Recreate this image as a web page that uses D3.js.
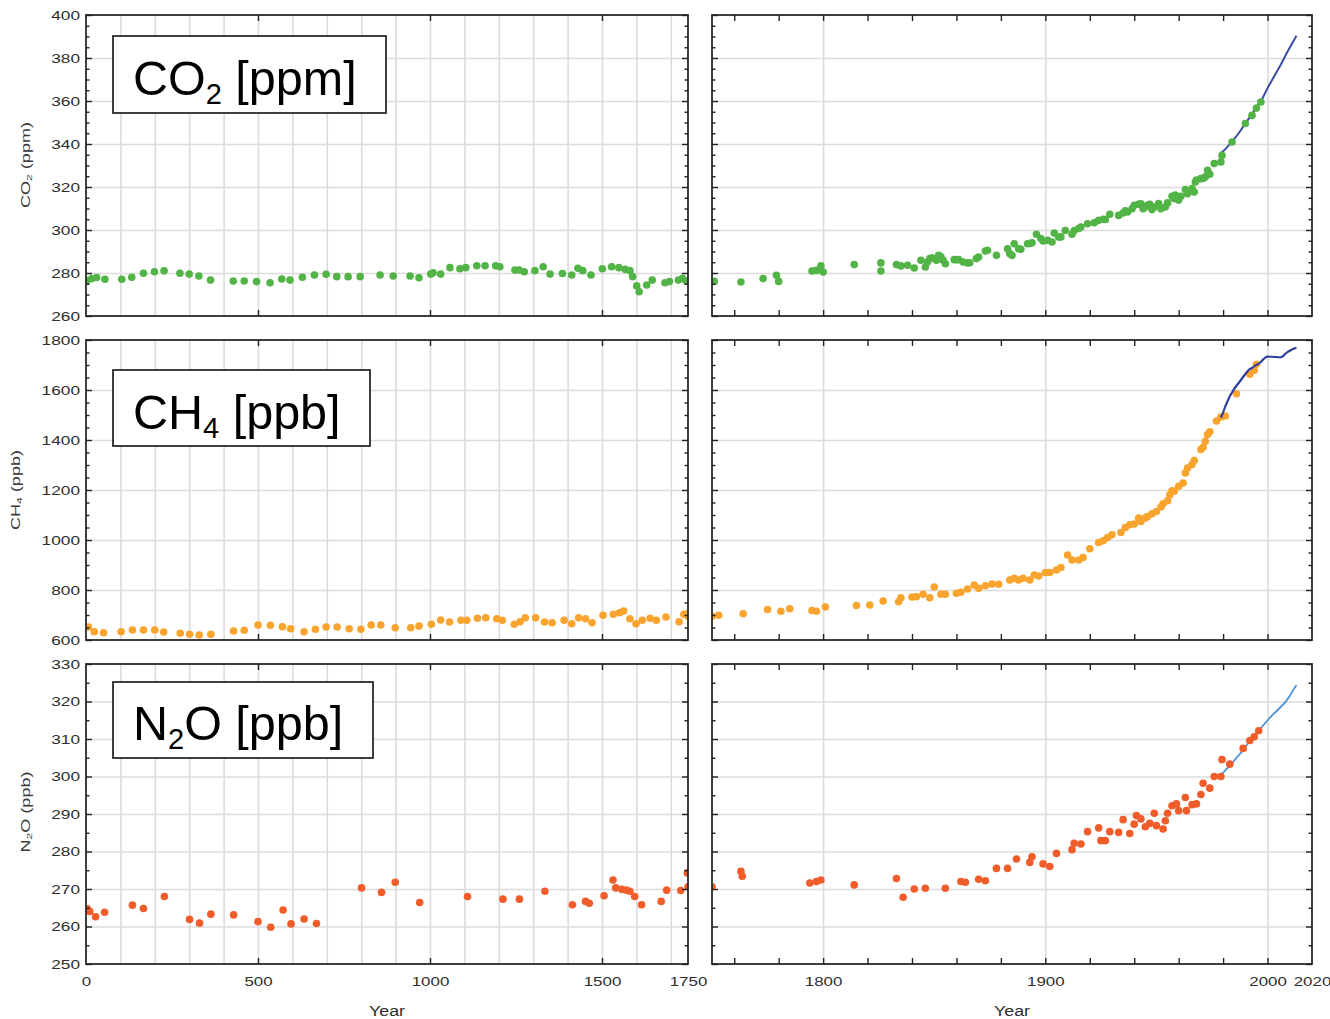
<!DOCTYPE html>
<html><head><meta charset="utf-8">
<script src="https://cdn.jsdelivr.net/npm/d3@7"></script>
<style>
body{margin:0;background:#fff;}
svg{display:block;font-family:"Liberation Sans",Arial,sans-serif;}
</style>
</head><body>
<svg id="c" width="1330" height="1019"></svg>
<script>
// ---------------- DATA ----------------
const co2Ice = [[3,276.5],[17,277.4],[31,277.9],[55,277.1],[104,277.1],[133,278],[167,279.9],[199,280.6],[227,281],[273,279.9],[300,279.5],[328,278.6],[362,276.7],[428,276.3],[460,276.3],[496,276],[535,275.5],[569,277.2],[593,276.7],[629,278],[664,279.1],[698,279.4],[729,278.3],[762,278.3],[797,278.3],[855,279.1],[893,278.6],[942,278.6],[968,277.8],[1002,279.5],[1009,280.1],[1031,279.5],[1058,282.5],[1087,282],[1104,282.5],[1136,283.4],[1160,283.4],[1191,283.4],[1203,282.9],[1247,281.4],[1259,281.4],[1274,280.6],[1305,281.1],[1329,282.9],[1349,279.5],[1385,279.8],[1412,279.1],[1430,282.2],[1444,281.1],[1468,279.1],[1501,282],[1528,282.9],[1549,282.5],[1567,281.7],[1581,281.1],[1589,278.3],[1601,274],[1608,271.3],[1630,274.4],[1646,276.7],[1683,275.5],[1696,276],[1722,276.7],[1734,277.5],[1744,276.4],
[1751,276.1],[1763,275.8],[1773,277.4],[1779,278.9],[1780,276.1],[1795,280.9],[1797,281.2],[1799,283.3],[1800,280.5],[1814,283.9],[1826,280.9],[1826,284.7],
[1833,283.9],[1835,283.3],[1838,283.6],[1841,282.3],[1844,285.9],[1846,282.8],[1847,285.1],[1848,286.7],[1849,287.1],[1851,285.9],[1852,288.2],[1853,287.5],[1854,285.9],[1855,284.3],[1859,286.2],[1860,286.2],[1861,286.2],[1863,285.1],[1865,284.7],[1866,284.8],[1869,286.7],[1870,287.4],[1873,290.2],[1874,290.6],[1878,288.2],[1883,291.3],[1884,289],[1885,288.2],[1886,293.6],[1888,291.3],[1889,291.0],[1892,293.6],[1893,293.7],[1894,294.1],[1896,298.0],[1898,296.0],[1899,294.9],[1901,295.2],[1903,294.4],[1904,298.6],[1906,296.7],[1907,296.8],[1909,299.8],[1912,298.0],[1913,299.8],[1915,300.7],[1916,301.4],[1919,302.9],[1922,303.4],[1924,304.5],[1926,305.0],[1927,304.9],[1929,307.3],[1933,306.8],[1935,307.9],[1936,308.9],[1937,308.4],[1939,309.9],[1940,311.5],[1942,312.0],[1943,312.2],[1944,309.9],[1945,310.8],[1946,311.5],[1947,312.0],[1948,309.5],[1949,310.7],[1951,312.3],[1952,309.9],[1954,310.7],[1955,312.6],[1957,315.7],[1958,314.6],[1958.5,316.2],[1960,313.9],[1961,315.7],[1963,318.8],[1964,316.9],[1966,319.3],[1967,317.7],[1967.5,322.3],[1968,323.2],[1970,323.9],[1971,324.0],[1972,324.7],[1973,327.8],[1974,325.9],[1976,330.9],[1979,331.6],[1979.5,334.7],[1984,340.9],[1990,349.5],[1993,353.3],[1995,356.7],[1997,359.5]];
const co2Direct = [[1979,335.8],[1980,336.6],[1984,341],[1987,345],[1990,349.5],[1993,354],[1995,357],[1997,359.8],[2000,366],[2003,371.5],[2006,377],[2009,383],[2012,388.5],[2013,390.3]];

const ch4Ice = [[7,652],[24,633],[51,629],[102,633],[135,640],[167,640],[200,640],[226,632],[274,627],[301,623],[329,620],[363,623],[429,636],[460,639],[500,660],[536,659],[571,653],[595,645],[634,633],[667,643],[698,652],[730,652],[765,645],[799,643],[829,660],[857,660],[899,649],[944,649],[968,656],[1004,663],[1031,680],[1057,672],[1090,679],[1107,679],[1138,687],[1162,689],[1194,685],[1210,679],[1245,663],[1262,673],[1277,689],[1307,689],[1333,672],[1355,669],[1390,679],[1412,665],[1432,689],[1452,685],[1471,669],[1503,699],[1533,703],[1551,709],[1563,716],[1581,685],[1599,665],[1617,679],[1640,687],[1658,679],[1686,692],[1724,673],[1738,703],[1748,705],
[1750,695],[1753,699],[1764,705],[1775,722],[1781,715],[1785,725],[1795,718],[1797,715],[1801,732],[1815,738],[1821,740],[1827,756],[1834,753],[1835,769],[1840,772],[1842,773],[1845,783],[1848,769],[1850,812],[1853,783],[1855,783],[1860,787],[1862,791],[1865,804],[1868,820],[1870,807],[1873,817],[1876,824],[1879,823],[1884,840],[1886,847],[1888,840],[1890,847],[1893,840],[1895,860],[1897,856],[1900,870],[1902,870],[1905,880],[1907,890],[1910,940],[1912,920],[1915,920],[1917,930],[1920,965],[1924,990],[1926,997],[1928,1010],[1930,1021],[1934,1030],[1936,1050],[1938,1061],[1940,1064],[1942,1088],[1943,1074],[1945,1088],[1946,1094],[1948,1105],[1950,1114],[1952,1132],[1953,1145],[1955,1157],[1956,1181],[1957,1197],[1958,1195],[1960,1215],[1962,1228],[1963,1268],[1964,1288],[1966,1302],[1967,1318],[1970,1362],[1971,1371],[1972,1395],[1973,1422],[1974,1433],[1977,1476],[1979,1492],[1981,1496],[1986,1585],[1992,1663],[1994,1679],[1995,1703]];
const ch4Direct = [[1979,1490],[1980,1510],[1981,1535],[1982,1555],[1983,1575],[1984,1590],[1985,1605],[1986,1617],[1987,1628],[1988,1640],[1989,1652],[1990,1664],[1991,1675],[1992,1684],[1993,1688],[1994,1695],[1995,1700],[1996,1705],[1997,1712],[1998,1722],[1999,1730],[2000,1734],[2001,1733],[2002,1733],[2003,1732],[2004,1732],[2005,1731],[2006,1731],[2007,1735],[2008,1745],[2009,1752],[2010,1757],[2011,1762],[2012,1766],[2013,1769]];

const n2oIce = [[4,264.7],[11,264.0],[28,262.6],[54,263.8],[135,265.7],[167,264.8],[228,268.0],[301,261.9],[330,260.9],[363,263.3],[429,263.1],[500,261.3],[537,259.8],[573,264.4],[596,260.7],[634,262.0],[670,260.8],[801,270.3],[859,269.1],[899,271.8],[970,266.4],[1109,268.0],[1212,267.3],[1260,267.3],[1334,269.4],[1414,265.8],[1452,266.7],[1463,266.2],[1506,268.2],[1532,272.4],[1540,270.3],[1558,269.9],[1571,269.7],[1581,269.4],[1595,268.0],[1615,265.8],[1672,266.7],[1688,269.7],[1729,269.6],[1748,274.3],[1750,270.6],
[1763,274.7],[1763.6,273.4],[1794,271.6],[1797,272.0],[1799,272.4],[1814,271.1],[1833,272.8],[1836,267.8],[1841,270.0],[1846,270.2],[1855,270.2],[1862,272.0],[1864,271.8],[1870,272.6],[1873,272.2],[1878,275.5],[1883,275.5],[1887,278.0],[1893,277.1],[1894,278.6],[1899,276.7],[1902,276.0],[1905,279.5],[1912,280.5],[1913,282.2],[1916,282.0],[1919,285.3],[1924,286.3],[1925,282.9],[1927,282.9],[1929,285.3],[1933,285.1],[1935,288.5],[1938,284.8],[1940,287.3],[1941,289.6],[1943,288.7],[1945,286.6],[1947,287.5],[1949,290.2],[1950,286.9],[1953,286.0],[1954,288.2],[1955,290.2],[1957,292.2],[1959,292.7],[1960,290.9],[1963,294.4],[1963.5,290.9],[1966,292.5],[1968,292.7],[1970,295.2],[1971,298.2],[1974,296.9],[1976,300.0],[1979,300.0],[1979.5,304.5],[1983,303.3],[1989,307.5],[1992,309.6],[1994,310.6],[1996,312.2]];
const n2oDirect = [[1978,300.2],[1980,301.0],[1982,302.3],[1984,303.5],[1986,305.0],[1988,306.3],[1990,308.0],[1992,309.4],[1994,310.6],[1996,312.2],[1998,313.6],[2000,315.0],[2002,316.3],[2004,317.4],[2006,318.6],[2008,319.8],[2010,321.5],[2012,323.5],[2013,324.3]];

const co2YTicks = [260,280,300,320,340,360,380,400];
const ch4YTicks = [600,800,1000,1200,1400,1600,1800];
const n2oYTicks = [250,260,270,280,290,300,310,320,330];
const leftXTicks = [0,500,1000,1500,1750];
const rightXTicks = [1800,1900,2000,2020];

// ---------------- LAYOUT / STYLE ----------------
const svg = d3.select("#c");
const cols = [
  {x0:86, x1:688, domain:[0,1750], grid:d3.range(100,1750,100), ticks:[500,1000,1500], labels:leftXTicks},
  {x0:712, x1:1312, domain:[1750,2020], grid:[1800,1900,2000], ticks:d3.range(1760,2020,20), labels:rightXTicks}
];
const rows = [
  {id:"co2", y0:15, y1:316, domain:[260,400], majors:co2YTicks, minorStep:5, ice:co2Ice, direct:co2Direct,
   dot:"#52b447", line:"#3b4ba3", lw:2, lineTop:false,
   box:[113,36,273,77], label:[["CO",0],["2",1],[" [ppm]",0]], labelY:95,
   title:[["CO",0],["2",1],[" (ppm)",0]], titleX:30, titleY:165, titleLen:86},
  {id:"ch4", y0:340, y1:640, domain:[600,1800], majors:ch4YTicks, minorStep:50, ice:ch4Ice, direct:ch4Direct,
   dot:"#f9a42e", line:"#2f3f9e", lw:2.2, lineTop:true,
   box:[113,370,257,76], label:[["CH",0],["4",1],[" [ppb]",0]], labelY:429,
   title:[["CH",0],["4",1],[" (ppb)",0]], titleX:20, titleY:490, titleLen:80},
  {id:"n2o", y0:664, y1:964, domain:[250,330], majors:n2oYTicks, minorStep:5, ice:n2oIce, direct:n2oDirect,
   dot:"#f15d2a", line:"#4b92d6", lw:1.8, lineTop:false,
   box:[113,682,260,76], label:[["N",0],["2",1],["O [ppb]",0]], labelY:740,
   title:[["N",0],["2",1],["O (ppb)",0]], titleX:30, titleY:812, titleLen:81}
];

const gridColor = "#dcdcdc", frameColor = "#2a2a2a", tickColor = "#222", labelColor = "#2e2e2e";

function cleanAxis(g){ g.select(".domain").remove(); g.attr("font-family",null).attr("font-size",null); }

rows.forEach((r, ri) => {
  const y = d3.scaleLinear(r.domain, [r.y1, r.y0]);
  const minors = d3.range(r.domain[0], r.domain[1] + 0.001, r.minorStep).filter(v => !r.majors.includes(v));
  cols.forEach((c, ci) => {
    const x = d3.scaleLinear(c.domain, [c.x0, c.x1]);
    const g = svg.append("g");
    const cid = `clip-${r.id}-${ci}`;
    svg.append("clipPath").attr("id", cid).append("rect")
      .attr("x", c.x0).attr("y", r.y0).attr("width", c.x1 - c.x0).attr("height", r.y1 - r.y0);

    // grid
    g.append("g").attr("transform", `translate(0,${r.y1})`)
      .call(d3.axisBottom(x).tickValues(c.grid).tickSize(-(r.y1 - r.y0)).tickFormat(""))
      .call(cleanAxis).selectAll("line").attr("stroke", gridColor).attr("stroke-width", 1.6);
    g.append("g").attr("transform", `translate(${c.x0},0)`)
      .call(d3.axisLeft(y).tickValues(r.majors.slice(1, -1)).tickSize(-(c.x1 - c.x0)).tickFormat(""))
      .call(cleanAxis).selectAll("line").attr("stroke", gridColor).attr("stroke-width", 1.6);

    const data = r.ice.filter(d => d[0] >= c.domain[0] - 10 && d[0] <= c.domain[1] + 10);
    const direct = r.direct.filter(d => d[0] >= c.domain[0] && d[0] <= c.domain[1]);
    const plot = g.append("g").attr("clip-path", `url(#${cid})`);
    const drawLine = () => {
      if (direct.length) plot.append("path").datum(direct)
        .attr("fill", "none").attr("stroke", r.line).attr("stroke-width", r.lw)
        .attr("stroke-linejoin", "round")
        .attr("d", d3.line().x(d => x(d[0])).y(d => y(d[1])));
    };
    if (!r.lineTop) drawLine();
    plot.append("g").selectAll("circle").data(data).join("circle")
      .attr("cx", d => x(d[0])).attr("cy", d => y(d[1])).attr("r", 3.8).attr("fill", r.dot);
    if (r.lineTop) drawLine();

    // frame
    g.append("rect").attr("x", c.x0).attr("y", r.y0).attr("width", c.x1 - c.x0).attr("height", r.y1 - r.y0)
      .attr("fill", "none").attr("stroke", frameColor).attr("stroke-width", 1.8);

    // inward ticks
    const tk = (axis, tx, ty) => g.append("g").attr("transform", `translate(${tx},${ty})`)
      .call(axis.tickFormat("")).call(cleanAxis).selectAll("line").attr("stroke", tickColor).attr("stroke-width", 1.4);
    tk(d3.axisLeft(y).tickValues(r.majors).tickSize(-6), c.x0, 0);
    tk(d3.axisLeft(y).tickValues(minors).tickSize(-3.5), c.x0, 0);
    tk(d3.axisRight(y).tickValues(r.majors).tickSize(-6), c.x1, 0);
    tk(d3.axisRight(y).tickValues(minors).tickSize(-3.5), c.x1, 0);
    tk(d3.axisBottom(x).tickValues(c.ticks).tickSize(-6), 0, r.y1);
    tk(d3.axisTop(x).tickValues(c.ticks).tickSize(-6), 0, r.y0);

    // y labels (left column only)
    if (ci === 0) {
      const ya = g.append("g").attr("transform", `translate(${c.x0},0)`)
        .call(d3.axisLeft(y).tickValues(r.majors).tickSize(0).tickPadding(6).tickFormat(d3.format("d")))
        .call(cleanAxis);
      ya.selectAll("text").attr("font-size", 13).attr("fill", labelColor)
        .attr("lengthAdjust", "spacingAndGlyphs")
        .attr("textLength", function(){ return this.textContent.length * 9.6; });
    }
    // x labels (bottom row only)
    if (ri === rows.length - 1) {
      const xa = g.append("g").attr("transform", `translate(0,${r.y1})`)
        .call(d3.axisBottom(x).tickValues(c.labels).tickSize(0).tickFormat(d3.format("d")))
        .call(cleanAxis);
      xa.selectAll("text").attr("y", 22).attr("dy", 0).attr("font-size", 13).attr("fill", labelColor)
        .attr("lengthAdjust", "spacingAndGlyphs")
        .attr("textLength", function(){ return this.textContent.length * 9.4; });
      svg.append("text").attr("x", (c.x0 + c.x1) / 2).attr("y", 1016).attr("text-anchor", "middle")
        .attr("font-size", 14).attr("fill", labelColor)
        .attr("lengthAdjust", "spacingAndGlyphs").attr("textLength", 36).text("Year");
    }
  });

  // label box
  const [bx, by, bw, bh] = r.box;
  svg.append("rect").attr("x", bx).attr("y", by).attr("width", bw).attr("height", bh)
    .attr("fill", "#fff").attr("stroke", "#111").attr("stroke-width", 1.6);
  const lt = svg.append("text").attr("x", bx + 20).attr("y", r.labelY).attr("font-size", 48.5).attr("fill", "#000");
  r.label.forEach(([s, sub]) => {
    lt.append("tspan").text(s).attr("font-size", sub ? 29 : 48.5).attr("baseline-shift", sub ? "-9" : null);
  });

  // rotated axis title
  const tt = svg.append("text")
    .attr("transform", `translate(${r.titleX},${r.titleY}) rotate(-90)`)
    .attr("text-anchor", "middle").attr("font-size", 12).attr("fill", "#3a3a3a")
    .attr("lengthAdjust", "spacingAndGlyphs").attr("textLength", r.titleLen);
  r.title.forEach(([s, sub]) => {
    tt.append("tspan").text(s).attr("font-size", sub ? 8 : 12).attr("baseline-shift", sub ? "-2" : null);
  });
});
</script>
</body></html>
